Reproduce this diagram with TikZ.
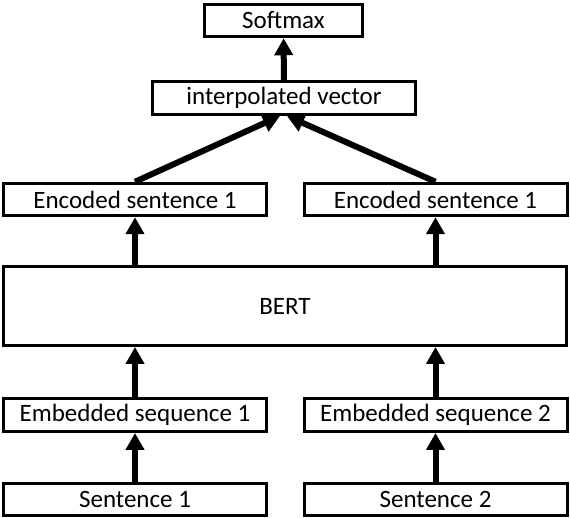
\documentclass[tikz,border=0pt]{standalone}
\usepackage{fontspec}
\setmainfont{Carlito}
\usepackage{tikz}
\usetikzlibrary{arrows.meta}
\begin{document}
\begin{tikzpicture}[x=1pt,y=1pt]
\tikzset{box/.style = {shape=rectangle,draw,line width=3pt,inner sep=0pt,minimum width=263pt,minimum height=32.5pt,font=\fontsize{25}{30}\selectfont}}
\tikzset{edge/.style = {-{Triangle[width=18pt,length=17pt]},line width=6pt}}
\useasboundingbox (0,0) rectangle (570,518);
% boxes
\node[box,minimum width=158pt] (softmax) at (283.5,497.5) {Softmax};
\node[box,minimum height=33pt] (interp) at (284,420) {interpolated vector};
\node[box] (enc1) at (135,318.5) {Encoded sentence 1};
\node[box] (enc2) at (435.5,318.5) {Encoded sentence 1};
\node[box,minimum width=563pt,minimum height=79pt] (bert) at (285,212) {BERT};
\node[box,minimum height=33pt] (emb1) at (135,103) {Embedded sequence 1};
\node[box,minimum height=33pt] (emb2) at (435.5,103) {Embedded sequence 2};
\node[box] (sent1) at (135,18.5) {Sentence 1};
\node[box] (sent2) at (435.5,18.5) {Sentence 2};
%edges
\draw[edge] (sent1) to (emb1);
\draw[edge] (sent2) to (emb2);
\draw[edge] (emb1.north) to (bert.south -| emb1);
\draw[edge] (emb2.north) to (bert.south -| emb2);
\draw[edge] (bert.north -| enc1) to (enc1.south);
\draw[edge] (bert.north -| enc2) to (enc2.south);
\draw[edge] (enc1.north) to ([xshift=-4pt]interp.south);
\draw[edge] (enc2.north) to ([xshift=3pt]interp.south);
\draw[edge] (interp) to (softmax);
\end{tikzpicture}
\end{document}
